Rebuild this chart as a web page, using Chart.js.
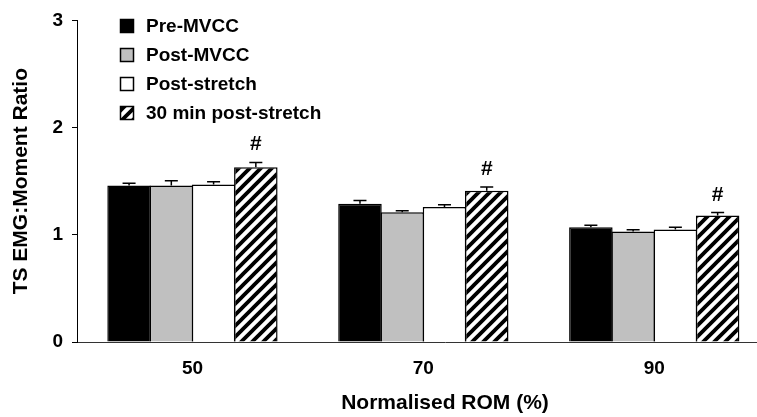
<!DOCTYPE html>
<html>
<head>
<meta charset="utf-8">
<script src="https://cdn.jsdelivr.net/npm/chart.js@4.4.1/dist/chart.umd.min.js"></script>
<style>
  html, body { margin: 0; padding: 0; background: #fff; overflow: hidden; }
  #wrap { width: 757px; height: 417px; position: relative; overflow: hidden; }
  #c { display: block; }
</style>
</head>
<body>
<div id="wrap"><canvas id="c" width="813" height="417"></canvas></div>
<script>
// ---- data ----
const categories = [50, 70, 90];
const seriesNames = ['Pre-MVCC', 'Post-MVCC', 'Post-stretch', '30 min post-stretch'];
const preMVCC      = [1.46, 1.29, 1.07];
const postMVCC     = [1.46, 1.21, 1.03];
const postStretch  = [1.47, 1.26, 1.05];
const post30       = [1.63, 1.41, 1.18];
const preMVCCErr     = [0.02, 0.03, 0.018];
const postMVCCErr    = [0.045, 0.015, 0.018];
const postStretchErr = [0.025, 0.02, 0.02];
const post30Err      = [0.045, 0.035, 0.028];
const post30Sig      = ['#', '#', '#'];
const yTicks = [0, 1, 2, 3];
const xTitle = 'Normalised ROM (%)';
const yTitle = 'TS EMG:Moment Ratio';

const FONT = "'Liberation Sans', Arial, sans-serif";

function makeHatch() {
  const s = 11;
  const cv = document.createElement('canvas');
  cv.width = s; cv.height = s;
  const g = cv.getContext('2d');
  g.fillStyle = '#fff';
  g.fillRect(0, 0, s, s);
  g.strokeStyle = '#000';
  g.lineWidth = 3.8;
  g.beginPath();
  g.moveTo(-2, s + 2); g.lineTo(s + 2, -2);
  g.moveTo(-2, 2); g.lineTo(2, -2);
  g.moveTo(s - 2, s + 2); g.lineTo(s + 2, s - 2);
  g.stroke();
  return document.getElementById('c').getContext('2d').createPattern(cv, 'repeat');
}
const hatch = makeHatch();

const seriesValues = [preMVCC, postMVCC, postStretch, post30];
const seriesErrors = [preMVCCErr, postMVCCErr, postStretchErr, post30Err];
const seriesFill = ['#000000', '#c0c0c0', '#ffffff', hatch];

const datasets = seriesValues.map((vals, i) => ({
  label: seriesNames[i],
  data: vals.map((v, j) => ({ x: categories[j], y: v })),
  errors: seriesErrors[i],
  backgroundColor: seriesFill[i],
  borderColor: '#000',
  borderWidth: 1.5,
  borderSkipped: 'bottom',
  categoryPercentage: 0.732,
  barPercentage: 1.03
}));

const errorBars = {
  id: 'errorBars',
  afterDatasetsDraw(chart) {
    const ctx = chart.ctx;
    const ys = chart.scales.y;
    ctx.save();
    ctx.strokeStyle = '#000';
    ctx.lineWidth = 1.5;
    chart.data.datasets.forEach((ds, di) => {
      const meta = chart.getDatasetMeta(di);
      meta.data.forEach((bar, j) => {
        const v = ds.data[j].y, e = ds.errors[j];
        const yTop = ys.getPixelForValue(v + e);
        ctx.beginPath();
        ctx.moveTo(bar.x, bar.y);
        ctx.lineTo(bar.x, yTop);
        ctx.moveTo(bar.x - 6.5, yTop);
        ctx.lineTo(bar.x + 6.5, yTop);
        ctx.stroke();
        if (di === 3 && post30Sig[j]) {
          ctx.fillStyle = '#000';
          ctx.font = 'bold 21px ' + FONT;
          ctx.textAlign = 'center';
          ctx.textBaseline = 'alphabetic';
          ctx.fillText(post30Sig[j], bar.x, yTop - 12);
        }
      });
    });
    ctx.restore();
  }
};

const legendPlugin = {
  id: 'customLegend',
  afterDraw(chart) {
    const ctx = chart.ctx;
    ctx.save();
    const rows = [26, 55, 84, 113];
    chart.data.datasets.forEach((ds, i) => {
      const cy = rows[i];
      ctx.fillStyle = ds.backgroundColor;
      ctx.fillRect(120.5, cy - 6.5, 13, 13);
      ctx.strokeStyle = '#000';
      ctx.lineWidth = 1.5;
      ctx.strokeRect(120.5, cy - 6.5, 13, 13);
      ctx.fillStyle = '#000';
      ctx.font = 'bold 19px ' + FONT;
      ctx.textAlign = 'left';
      ctx.textBaseline = 'middle';
      ctx.fillText(ds.label, 146, cy + 1);
    });
    ctx.restore();
  }
};

new Chart(document.getElementById('c'), {
  type: 'bar',
  data: { datasets },
  plugins: [errorBars, legendPlugin],
  options: {
    responsive: false,
    animation: false,
    layout: { padding: { top: 18, right: 0, bottom: 0, left: 0 } },
    plugins: { legend: { display: false }, tooltip: { enabled: false } },
    scales: {
      x: {
        type: 'linear',
        offset: false,
        min: 40,
        max: 103.75,
        afterBuildTicks: (s) => { s.ticks = categories.map(v => ({ value: v })); },
        afterFit: (s) => { s.height = 75; },
        grid: { display: false, drawTicks: false },
        border: { display: true, color: '#333', width: 1 },
        ticks: {
          color: '#000',
          font: { family: FONT, size: 19, weight: 'bold' },
          padding: 15,
          maxRotation: 0,
          callback: (v) => String(v)
        },
        title: {
          display: true,
          text: xTitle,
          color: '#000',
          font: { family: FONT, size: 21, weight: 'bold' },
          padding: { top: 0, bottom: 1 }
        }
      },
      y: {
        min: 0,
        max: 3,
        afterBuildTicks: (s) => { s.ticks = yTicks.map(v => ({ value: v })); },
        afterFit: (s) => { s.width = 77; },
        grid: { drawOnChartArea: false, drawTicks: true, tickLength: 5, color: '#000', lineWidth: 1 },
        border: { display: true, color: '#000', width: 1 },
        ticks: {
          color: '#000',
          font: { family: FONT, size: 19, weight: 'bold' },
          padding: 9,
          callback: (v) => String(v)
        },
        title: {
          display: true,
          text: yTitle,
          color: '#000',
          font: { family: FONT, size: 21, weight: 'bold' },
          padding: { top: 9, bottom: 0 }
        }
      }
    }
  }
});
</script>
</body>
</html>
